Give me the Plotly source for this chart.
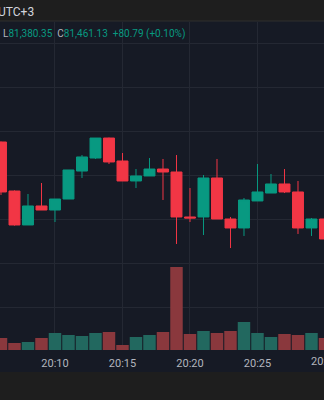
import plotly.graph_objects as go
import pandas as pd

# ---- data ----
times = ["2024-01-01 20:%02d:00" % m for m in range(6, 31)]
opens = [81587.5, 81531.8, 81493.2, 81514.8, 81510.2, 81522.7, 81554.5, 81569.3, 81592.0, 81565.9,
         81543.2, 81548.9, 81556.8, 81553.4, 81502.3, 81502.3, 81546.6, 81500.0, 81489.8, 81520.5,
         81529.5, 81539.8, 81530.7, 81489.8, 81500.0]
highs = [81588.0, 81532.5, 81528.4, 81540.9, 81522.7, 81555.7, 81572.7, 81592.0, 81592.5, 81575.0,
         81556.8, 81569.3, 81568.2, 81572.7, 81535.2, 81550.0, 81568.2, 81502.3, 81523.9, 81562.5,
         81551.1, 81556.8, 81543.2, 81501.1, 81501.0]
lows = [81527.3, 81492.5, 81493.2, 81510.2, 81496.6, 81522.7, 81546.6, 81568.2, 81562.5, 81543.2,
        81535.2, 81548.9, 81521.6, 81471.6, 81496.6, 81481.8, 81500.0, 81467.0, 81480.7, 81520.5,
        81529.5, 81529.5, 81483.0, 81480.7, 81477.0]
closes = [81530.7, 81493.2, 81514.8, 81510.2, 81522.7, 81555.7, 81570.5, 81592.0, 81564.8, 81543.2,
          81548.9, 81556.8, 81553.4, 81502.3, 81501.1, 81546.6, 81500.0, 81489.8, 81521.6, 81530.7,
          81539.8, 81530.7, 81489.8, 81500.0, 81477.3]
volumes = [6.0, 3.5, 4.0, 6.0, 8.5, 7.5, 7.0, 8.5, 9.0, 2.5,
           6.5, 7.5, 9.0, 41.5, 8.0, 9.5, 8.5, 9.5, 14.0, 8.5,
           6.5, 8.0, 7.5, 8.5, 6.0]
tick_vals = ["2024-01-01 20:10:00", "2024-01-01 20:15:00", "2024-01-01 20:20:00",
             "2024-01-01 20:25:00", "2024-01-01 20:30:00"]
tick_text = ["20:10", "20:15", "20:20", "20:25", "20:30"]

UP = "#089981"
DOWN = "#f23645"
VUP = "#22685f"
VDOWN = "#8a383d"
BG = "#161a25"
TOP = "#1e1e1e"

x_range = ["2024-01-01 20:05:55.6", "2024-01-01 20:29:55.6"]

vol_colors = [VUP if c >= o else VDOWN for o, c in zip(opens, closes)]

fig = go.Figure()
fig.add_trace(go.Candlestick(
    x=times, open=opens, high=highs, low=lows, close=closes,
    increasing=dict(line=dict(color=UP, width=1), fillcolor=UP),
    decreasing=dict(line=dict(color=DOWN, width=1), fillcolor=DOWN),
    whiskerwidth=0, showlegend=False, xaxis="x", yaxis="y",
))
fig.add_trace(go.Bar(
    x=times, y=volumes, marker=dict(color=vol_colors, line=dict(width=0)),
    width=55500, showlegend=False, xaxis="x", yaxis="y2",
))

H = 400.0
def py(pix):
    return 1 - pix / H

# tick labels that fall just past the right edge of the x range (cut by the page edge)
r0, r1 = pd.Timestamp(x_range[0]), pd.Timestamp(x_range[1])
extra_ann = []
for tv, tt in zip(tick_vals, tick_text):
    t = pd.Timestamp(tv)
    if t > r1:
        frac = (t - r0) / (r1 - r0)
        extra_ann.append(dict(xref="paper", yref="paper", x=frac, y=py(361), xanchor="center",
                              yanchor="middle", text=tt, showarrow=False,
                              font=dict(size=11, color="#b2b5be")))

fig.update_layout(
    width=324, height=400,
    margin=dict(l=0, r=0, t=0, b=0),
    paper_bgcolor=TOP,
    plot_bgcolor="rgba(0,0,0,0)",
    boxgap=0.1, boxgroupgap=0.1,
    font=dict(family="Roboto", color="#b2b5be"),
    xaxis=dict(
        type="date", range=x_range,
        tickvals=tick_vals, ticktext=tick_text, ticks="",
        showgrid=True, gridcolor="#242833", gridwidth=1,
        zeroline=False, showline=False, rangeslider=dict(visible=False),
        tickfont=dict(size=11, color="#b2b5be"), anchor="y",
        ticklabelstandoff=5, fixedrange=True,
    ),
    yaxis=dict(
        domain=[py(350), py(22)], range=[81351.14, 81723.86],
        tick0=81500, dtick=50, showticklabels=False, ticks="",
        showgrid=True, gridcolor="#242833", gridwidth=1, zeroline=False,
    ),
    yaxis2=dict(
        overlaying="y", range=[0, 164], showgrid=False, showticklabels=False,
        zeroline=False, ticks="",
    ),
    shapes=[
        dict(type="rect", xref="paper", yref="paper", x0=0, x1=1, y0=py(372), y1=py(21),
             fillcolor=BG, line=dict(width=0), layer="below"),
        dict(type="line", xref="paper", yref="paper", x0=0, x1=1, y0=py(21), y1=py(21),
             line=dict(color="#2e2e2e", width=1), layer="below"),
    ],
    annotations=[
        dict(xref="paper", yref="paper", x=-4 / 324, y=py(12), xanchor="left", yanchor="middle",
             text="UTC+3", showarrow=False, font=dict(size=12, color="#d1d4dc")),
        dict(xref="paper", yref="paper", x=1 / 324, y=py(34), xanchor="left", yanchor="middle",
             text=("<span style='color:#b2b5be'>L</span>81,380.35&nbsp; "
                   "<span style='color:#b2b5be'>C</span>81,461.13&nbsp; +80.79 (+0.10%)"),
             showarrow=False, font=dict(size=10, color=UP)),
    ] + extra_ann,
)

fig.write_html("out.html")
